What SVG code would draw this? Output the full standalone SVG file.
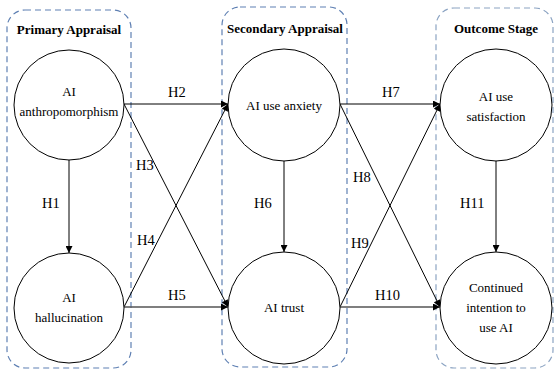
<svg xmlns="http://www.w3.org/2000/svg" width="555" height="370" viewBox="0 0 555 370">
<style>
.stage{fill:none;stroke:#5f80b3;stroke-width:1.2;stroke-dasharray:6 4}
.stage3{stroke:#8ba3c2}
.node{fill:#fff;stroke:#000;stroke-width:1}
text{font-family:'Liberation Serif','Tinos','Times New Roman','DejaVu Serif',serif;fill:#000}
.t{font-size:13px;text-anchor:middle}
.title{font-size:13px;font-weight:bold;text-anchor:middle}
.lab{font-size:14.5px}
.e{stroke:#000;stroke-width:1;fill:none;marker-end:url(#ah)}
.eg{stroke:#555;stroke-width:1.3;fill:none;marker-end:url(#ah)}
</style>
<defs>
<marker id="ah" viewBox="0 0 10 10" refX="10" refY="5" markerWidth="8" markerHeight="7" markerUnits="userSpaceOnUse" orient="auto">
<path d="M0,0 L10,5 L0,10 z" fill="#000"/>
</marker>
</defs>
<rect width="555" height="370" fill="#fff"/>
<g id="stages" font-family="Liberation Serif, serif">
<rect class="stage" x="7" y="10" width="124" height="358" rx="18"/>
<rect class="stage" x="222" y="7" width="125" height="360" rx="18"/>
<rect class="stage stage3" x="436" y="8" width="117" height="360" rx="18"/>
<text class="title" x="69" y="34">Primary Appraisal</text>
<text class="title" x="285" y="33">Secondary Appraisal</text>
<text class="title" x="496" y="33">Outcome Stage</text>
</g>
<g id="connectors">
<line class="e" x1="69" y1="160" x2="69" y2="253"/>
<line class="e" x1="124" y1="104" x2="228" y2="104"/>
<line class="e" x1="124" y1="104" x2="228" y2="307"/>
<line class="e" x1="124" y1="307" x2="228" y2="104"/>
<line class="eg" x1="124" y1="307" x2="228" y2="307"/>
<line class="e" x1="284" y1="160" x2="284" y2="252"/>
<line class="e" x1="340" y1="104" x2="440" y2="104"/>
<line class="e" x1="340" y1="104" x2="440" y2="307"/>
<line class="e" x1="340" y1="307" x2="440" y2="104"/>
<line class="eg" x1="340" y1="307" x2="440" y2="307"/>
<line class="e" x1="496" y1="160" x2="496" y2="252"/>
<text class="lab" x="42" y="208">H1</text>
<text class="lab" x="168" y="97">H2</text>
<text class="lab" x="136" y="170">H3</text>
<text class="lab" x="137" y="245">H4</text>
<text class="lab" x="168" y="300">H5</text>
<text class="lab" x="254" y="208">H6</text>
<text class="lab" x="382" y="97">H7</text>
<text class="lab" x="353" y="182">H8</text>
<text class="lab" x="351" y="248">H9</text>
<text class="lab" x="375" y="300">H10</text>
<text class="lab" x="460" y="208">H11</text>
</g>
<g id="anthropomorphism">
<circle class="node" cx="69" cy="105" r="55"/>
<text class="t" x="69" y="96">AI</text>
<text class="t" x="69" y="116">anthropomorphism</text>
</g>
<g id="hallucination">
<circle class="node" cx="69" cy="308" r="55"/>
<text class="t" x="69" y="302">AI</text>
<text class="t" x="69" y="322">hallucination</text>
</g>
<g id="anxiety">
<circle class="node" cx="284" cy="105" r="56"/>
<text class="t" x="284" y="110">AI use anxiety</text>
</g>
<g id="trust">
<circle class="node" cx="284" cy="308" r="56"/>
<text class="t" x="284" y="312">AI trust</text>
</g>
<g id="satisfaction">
<circle class="node" cx="496" cy="105" r="56"/>
<text class="t" x="496" y="101">AI use</text>
<text class="t" x="496" y="121">satisfaction</text>
</g>
<g id="continued">
<circle class="node" cx="496" cy="308" r="56"/>
<text class="t" x="496" y="292">Continued</text>
<text class="t" x="496" y="312">intention to</text>
<text class="t" x="496" y="332">use AI</text>
</g>
</svg>
